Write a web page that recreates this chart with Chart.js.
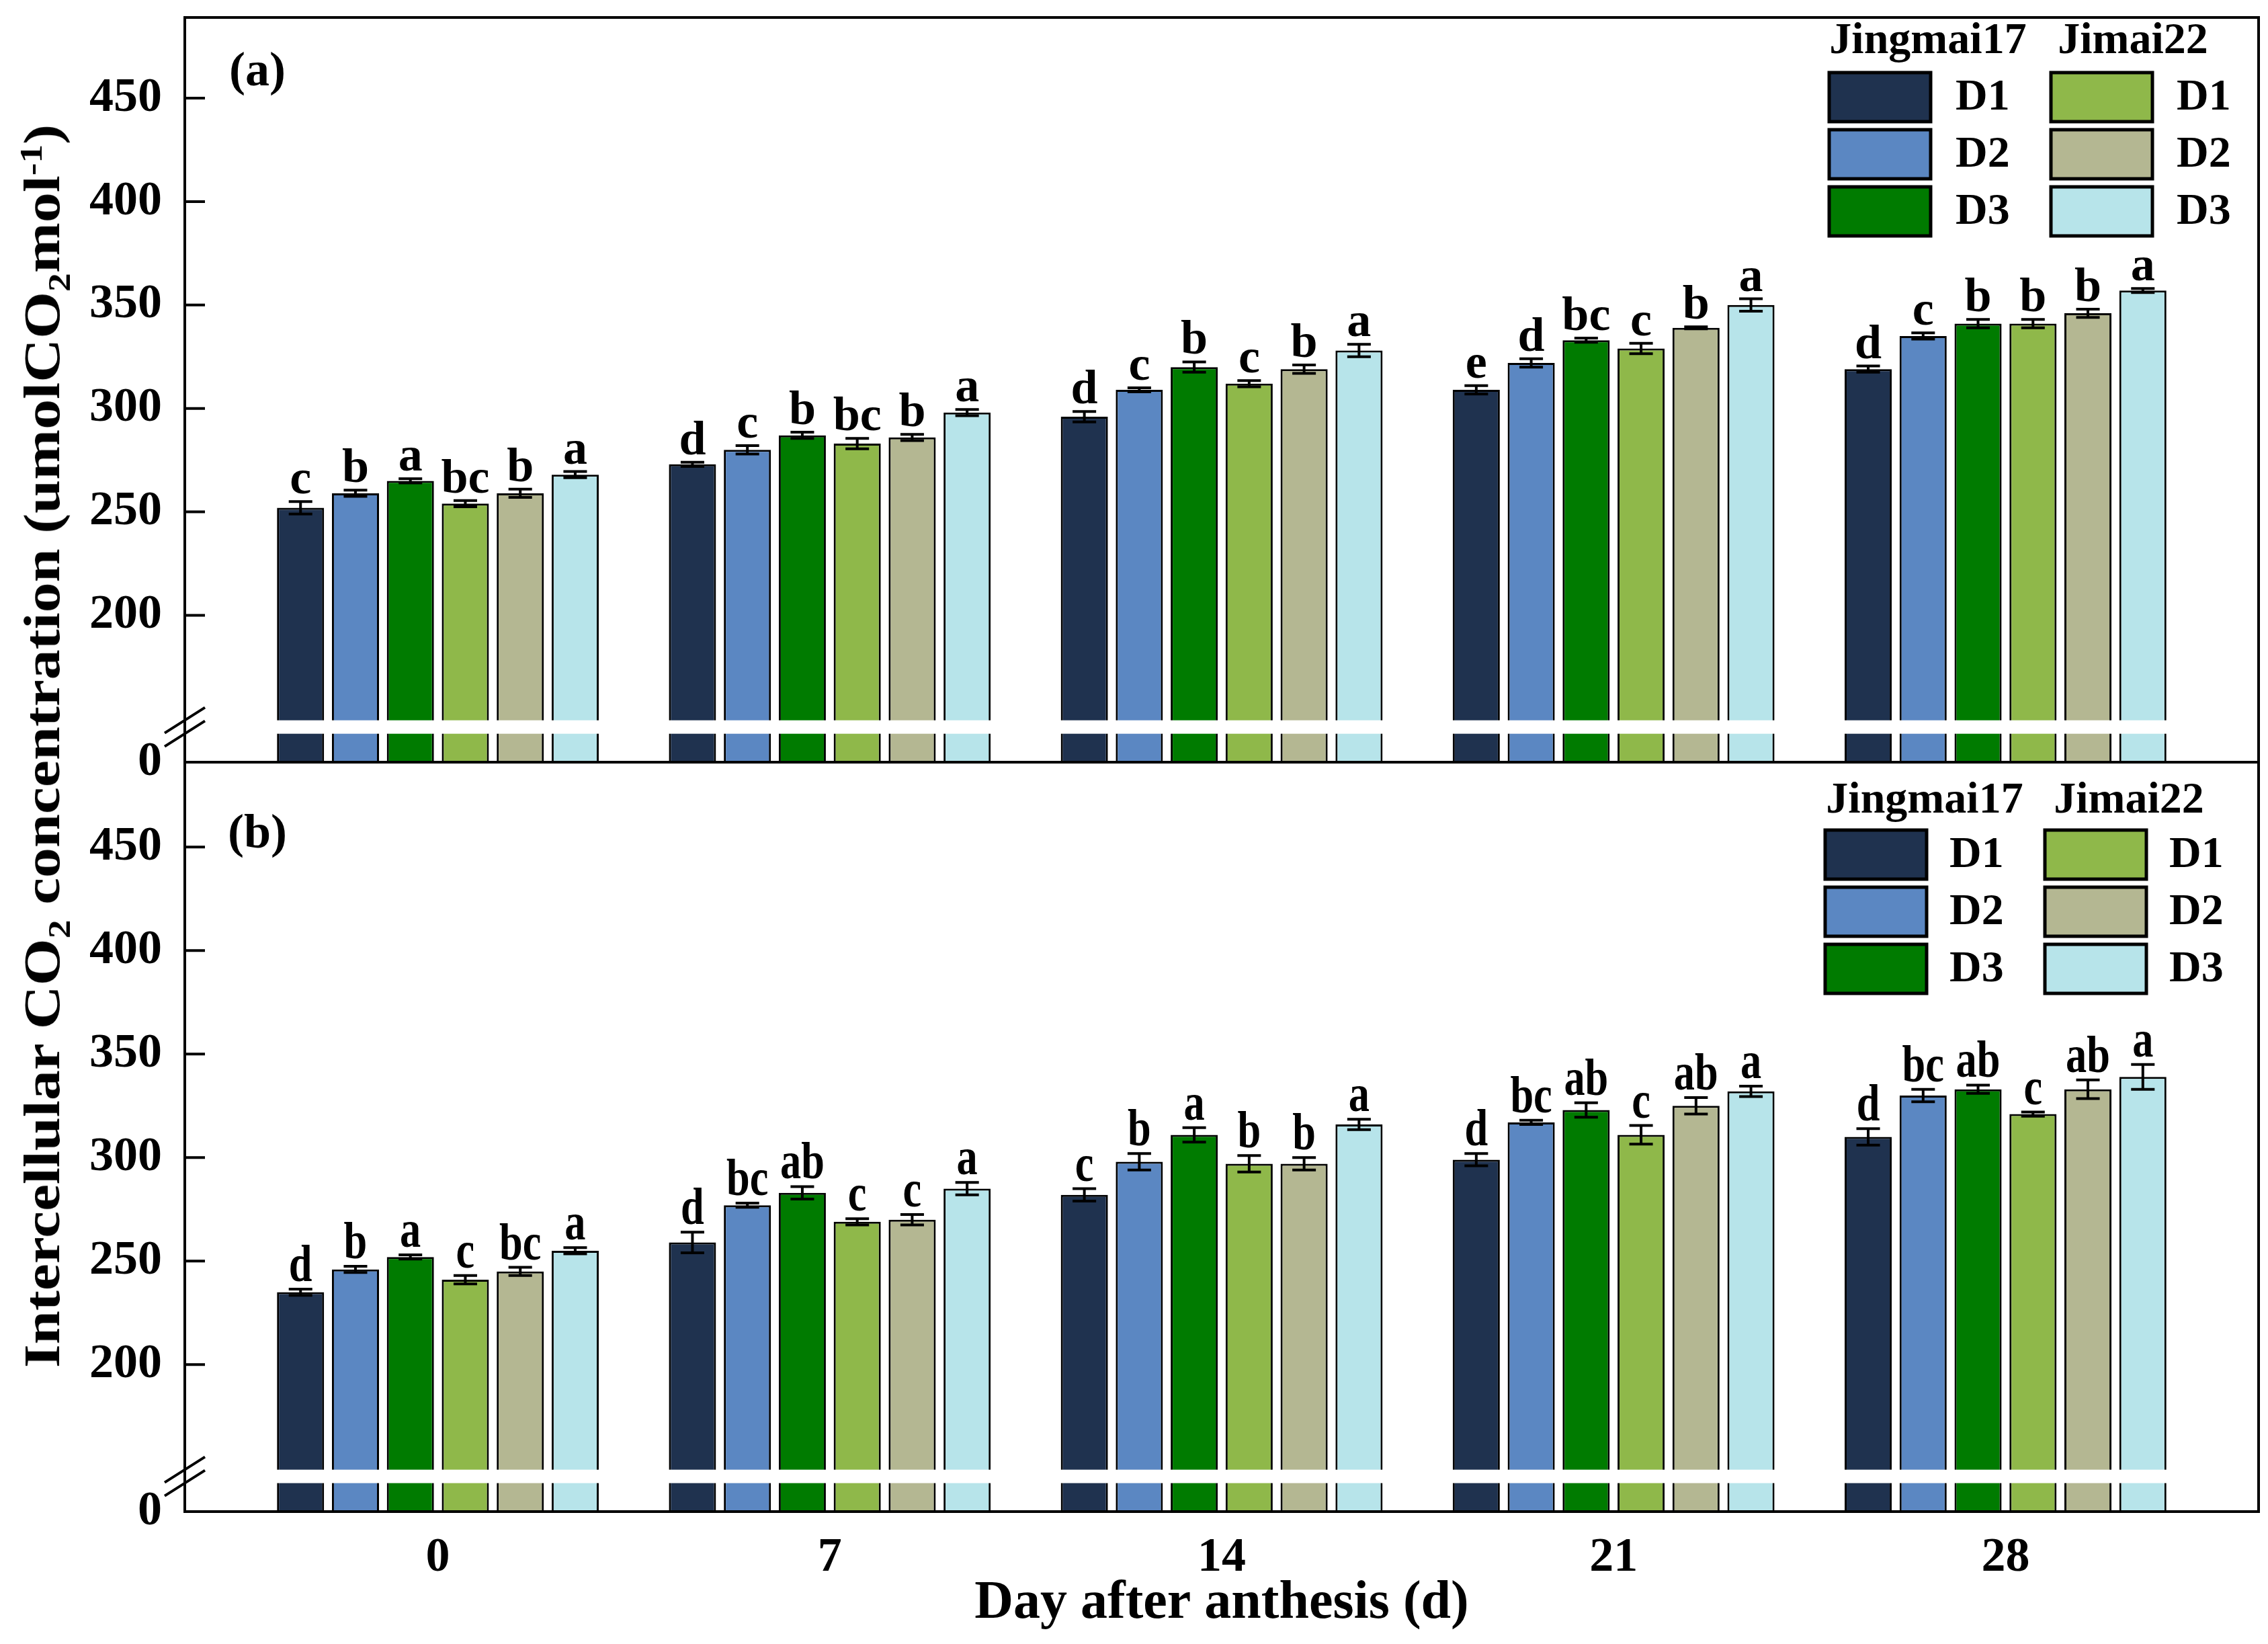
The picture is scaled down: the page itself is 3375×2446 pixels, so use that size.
<!DOCTYPE html>
<html>
<head>
<meta charset="utf-8">
<script src="https://cdn.jsdelivr.net/npm/chart.js@4.4.1/dist/chart.umd.min.js"></script>
<style>
html, body { margin: 0; padding: 0; background: #fff; }
#wrap { position: relative; width: 3375px; height: 2446px; overflow: hidden; background: #fff; }
canvas { position: absolute; left: 0; }
#cA { top: 0; }
#cB { top: 1100px; }
#ytitle {
    position: absolute; left: 62px; top: 1110px;
    font-family: "Liberation Serif", "Times New Roman", serif;
    font-weight: bold; font-size: 76px; line-height: 1; white-space: nowrap;
    transform-origin: 50% 50%;
}
#ytitle sub, #ytitle sup { font-size: 0.62em; line-height: 0; }
</style>
</head>
<body>
<div id="wrap">
    <canvas id="cA" width="3375" height="1180"></canvas>
    <canvas id="cB" width="3375" height="1346"></canvas>
    <div id="ytitle">Intercellular CO<sub>2</sub> concentration (umolCO<sub>2</sub>mol<sup>-1</sup>)</div>
</div>
<script>
var days = [0, 7, 14, 21, 28];
var seriesNames = ["D1", "D2", "D3", "D1", "D2", "D3"];
var cultivars = ["Jingmai17", "Jimai22"];
var yTickValues = [0, 200, 250, 300, 350, 400, 450];
var yTickLabels = ["0", "200", "250", "300", "350", "400", "450"];
var colors = ["#1f324f", "#5b87c2", "#007b00", "#8fb84a", "#b4b792", "#b7e4ea"];

/* panel (a) means */
var a_J17_D1 = [252, 273, 296, 309, 319];
var a_J17_D2 = [259, 280, 309, 322, 335];
var a_J17_D3 = [265, 287, 320, 333, 341];
var a_J22_D1 = [254, 283, 312, 329, 341];
var a_J22_D2 = [259, 286, 319, 339, 346];
var a_J22_D3 = [268, 298, 328, 350, 357];
/* panel (a) error bars */
var a_err_J17_D1 = [3, 1, 2.5, 2, 1.5];
var a_err_J17_D2 = [1.5, 2, 1, 2, 1.5];
var a_err_J17_D3 = [1, 1.5, 2.5, 1, 2];
var a_err_J22_D1 = [1.5, 2.5, 1.5, 2.5, 2];
var a_err_J22_D2 = [2, 1.5, 2, 0.5, 2];
var a_err_J22_D3 = [1.5, 1.5, 3, 3, 1];
/* panel (a) letters */
var a_let_J17_D1 = ["c", "d", "d", "e", "d"];
var a_let_J17_D2 = ["b", "c", "c", "d", "c"];
var a_let_J17_D3 = ["a", "b", "b", "bc", "b"];
var a_let_J22_D1 = ["bc", "bc", "c", "c", "b"];
var a_let_J22_D2 = ["b", "b", "b", "b", "b"];
var a_let_J22_D3 = ["a", "a", "a", "a", "a"];

/* panel (b) means */
var b_J17_D1 = [235, 259, 282, 299, 310];
var b_J17_D2 = [246, 277, 298, 317, 330];
var b_J17_D3 = [252, 283, 311, 323, 333];
var b_J22_D1 = [241, 269, 297, 311, 321];
var b_J22_D2 = [245, 270, 297, 325, 333];
var b_J22_D3 = [255, 285, 316, 332, 339];
/* panel (b) error bars */
var b_err_J17_D1 = [1.5, 5, 3, 3, 4];
var b_err_J17_D2 = [1.5, 1, 4, 1, 3];
var b_err_J17_D3 = [1, 3, 3.5, 3.5, 2];
var b_err_J22_D1 = [2, 1.5, 4, 4.5, 1];
var b_err_J22_D2 = [2, 2.5, 3, 4, 4.5];
var b_err_J22_D3 = [1.5, 3, 2.5, 2.5, 6];
/* panel (b) letters */
var b_let_J17_D1 = ["d", "d", "c", "d", "d"];
var b_let_J17_D2 = ["b", "bc", "b", "bc", "bc"];
var b_let_J17_D3 = ["a", "ab", "a", "ab", "ab"];
var b_let_J22_D1 = ["c", "c", "b", "c", "c"];
var b_let_J22_D2 = ["bc", "c", "b", "ab", "ab"];
var b_let_J22_D3 = ["a", "a", "a", "a", "a"];

/* broken axis: everything above the break is shifted down by SHIFT */
var SHIFT = 129;
var BREAK_AT = 17;
var SERIF = '"Liberation Serif", "Times New Roman", serif';

function toAxis(v) { return v === 0 ? 0 : v - SHIFT; }

var extras = {
    id: "extras",
    afterDatasetsDraw: function (chart, args, o) {
        var ctx = chart.ctx, ca = chart.chartArea, ys = chart.scales.y;
        ctx.save();
        /* white break band across the bars */
        var yb = ys.getPixelForValue(BREAK_AT);
        ctx.fillStyle = "#fff";
        ctx.fillRect(ca.left + 3, yb - 10, ca.right - ca.left - 6, 20);

        /* error bars and letters */
        ctx.strokeStyle = "#000";
        ctx.fillStyle = "#000";
        ctx.lineWidth = 4;
        ctx.font = "bold " + o.letterSize + "px " + SERIF;
        ctx.textAlign = "center";
        ctx.textBaseline = "alphabetic";
        for (var i = 0; i < o.means.length; i++) {
            var meta = chart.getDatasetMeta(i);
            for (var j = 0; j < meta.data.length; j++) {
                var bar = meta.data[j];
                var m = o.means[i][j], e = o.err[i][j];
                var yt = ys.getPixelForValue(toAxis(m + e));
                var yl = ys.getPixelForValue(toAxis(m - e));
                var cw = bar.width * 0.25;
                ctx.beginPath();
                ctx.moveTo(bar.x, yt); ctx.lineTo(bar.x, yl);
                ctx.moveTo(bar.x - cw, yt); ctx.lineTo(bar.x + cw, yt);
                ctx.moveTo(bar.x - cw, yl); ctx.lineTo(bar.x + cw, yl);
                ctx.stroke();
                ctx.save();
                ctx.translate(bar.x, yt - 12);
                ctx.scale(o.letterScaleX, 1);
                ctx.fillText(o.letters[i][j], 0, 0);
                ctx.restore();
            }
        }
        ctx.restore();
    },
    afterDraw: function (chart, args, o) {
        var ctx = chart.ctx, ca = chart.chartArea, ys = chart.scales.y;
        ctx.save();
        ctx.strokeStyle = "#000";
        ctx.lineWidth = 4;
        ctx.strokeRect(ca.left, ca.top, ca.right - ca.left, ca.bottom - ca.top);

        /* inward tick marks */
        ctx.beginPath();
        ys.ticks.forEach(function (t) {
            if (t.value === 0) return;
            var p = ys.getPixelForValue(t.value);
            ctx.moveTo(ca.left, p);
            ctx.lineTo(ca.left + 30, p);
        });
        ctx.stroke();

        /* break marks on the y axis */
        var yb = ys.getPixelForValue(BREAK_AT);
        ctx.beginPath();
        [yb - 10, yb + 10].forEach(function (y) {
            ctx.moveTo(ca.left - 30, y + 19);
            ctx.lineTo(ca.left + 30, y - 19);
        });
        ctx.stroke();

        /* panel tag */
        ctx.fillStyle = "#000";
        ctx.font = "bold 72px " + SERIF;
        ctx.textAlign = "center";
        ctx.textBaseline = "middle";
        ctx.fillText(o.tag, ca.left + 108, ca.top + o.tagDy);

        /* two column legend */
        var lg = o.legend;
        ctx.font = "bold 66px " + SERIF;
        ctx.fillText(cultivars[0], lg.hx[0], ca.top + lg.hy);
        ctx.fillText(cultivars[1], lg.hx[1], ca.top + lg.hy);
        ctx.textAlign = "left";
        ctx.lineWidth = 5;
        chart.data.datasets.forEach(function (ds, k) {
            var col = k < 3 ? 0 : 1, row = k % 3;
            var x = lg.sx[col], y = ca.top + lg.ry + row * 85;
            ctx.fillStyle = ds.backgroundColor;
            ctx.fillRect(x, y, 151, 73);
            ctx.strokeRect(x, y, 151, 73);
            ctx.fillStyle = "#000";
            ctx.fillText(seriesNames[k], lg.lx[col], y + 38);
        });
        ctx.restore();
    }
};

function makeDatasets(list) {
    return list.map(function (vals, k) {
        return {
            label: seriesNames[k],
            data: vals.map(function (v, j) { return { x: days[j], y: toAxis(v) }; }),
            backgroundColor: colors[k],
            borderColor: "#000",
            borderWidth: 3,
            categoryPercentage: 0.841,
            barPercentage: 0.857
        };
    });
}

function makeChart(id, means, err, letters, opt) {
    return new Chart(document.getElementById(id), {
        type: "bar",
        data: { datasets: makeDatasets(means) },
        options: {
            responsive: false,
            animation: false,
            devicePixelRatio: 1,
            layout: { padding: { left: 0, right: 14, top: opt.padTop, bottom: 0 } },
            plugins: {
                legend: { display: false },
                tooltip: { enabled: false },
                extras: {
                    means: means, err: err, letters: letters,
                    letterSize: opt.letterSize, letterScaleX: opt.letterScaleX,
                    tag: opt.tag, tagDy: opt.tagDy, legend: opt.legend
                }
            },
            scales: {
                x: {
                    type: "linear",
                    offset: false,
                    min: -4.52,
                    max: 32.52,
                    afterBuildTicks: function (s) { s.ticks = days.map(function (d) { return { value: d }; }); },
                    afterFit: function (s) { s.height = opt.xHeight; s.paddingLeft = 0; s.paddingRight = 0; },
                    grid: { display: false, drawTicks: false },
                    border: { display: false },
                    ticks: {
                        display: opt.xLabels,
                        padding: 26,
                        color: "#000",
                        font: { family: SERIF, size: 72, weight: "bold" }
                    },
                    title: {
                        display: opt.xLabels,
                        text: "Day after anthesis (d)",
                        color: "#000",
                        padding: { top: 0, bottom: 12 },
                        font: { family: SERIF, size: 80, weight: "bold" }
                    }
                },
                y: {
                    min: 0,
                    max: opt.yMax,
                    afterBuildTicks: function (s) {
                        s.ticks = yTickValues.map(function (v) { return { value: toAxis(v) }; });
                    },
                    afterFit: function (s) { s.width = 275; s.paddingTop = 0; s.paddingBottom = 0; },
                    grid: { display: false, drawTicks: false },
                    border: { display: false },
                    ticks: {
                        padding: 34,
                        color: "#000",
                        font: { family: SERIF, size: 72, weight: "bold" },
                        callback: function (v, i) { return yTickLabels[i]; }
                    }
                }
            }
        },
        plugins: [extras]
    });
}

makeChart("cA",
    [a_J17_D1, a_J17_D2, a_J17_D3, a_J22_D1, a_J22_D2, a_J22_D3],
    [a_err_J17_D1, a_err_J17_D2, a_err_J17_D3, a_err_J22_D1, a_err_J22_D2, a_err_J22_D3],
    [a_let_J17_D1, a_let_J17_D2, a_let_J17_D3, a_let_J22_D1, a_let_J22_D2, a_let_J22_D3],
    {
        padTop: 26, xHeight: 46, xLabels: false, yMax: 360, letterSize: 72, letterScaleX: 1,
        tag: "(a)", tagDy: 82,
        legend: { hx: [2869, 3174], hy: 36, sx: [2722, 3052], lx: [2910, 3239], ry: 82 }
    });

makeChart("cB",
    [b_J17_D1, b_J17_D2, b_J17_D3, b_J22_D1, b_J22_D2, b_J22_D3],
    [b_err_J17_D1, b_err_J17_D2, b_err_J17_D3, b_err_J22_D1, b_err_J22_D2, b_err_J22_D3],
    [b_let_J17_D1, b_let_J17_D2, b_let_J17_D3, b_let_J22_D1, b_let_J22_D2, b_let_J22_D3],
    {
        padTop: 34, xHeight: 197, xLabels: true, yMax: 362, letterSize: 78, letterScaleX: 0.8,
        tag: "(b)", tagDy: 108,
        legend: { hx: [2864, 3168], hy: 58, sx: [2716, 3043], lx: [2901, 3228], ry: 101 }
    });

/* stretch the y title to its length in the reference */
var yt = document.getElementById("ytitle");
var k = 1850 / yt.offsetWidth;
yt.style.transform = "translate(-50%, -50%) rotate(-90deg) scaleX(" + k + ")";
</script>
</body>
</html>
